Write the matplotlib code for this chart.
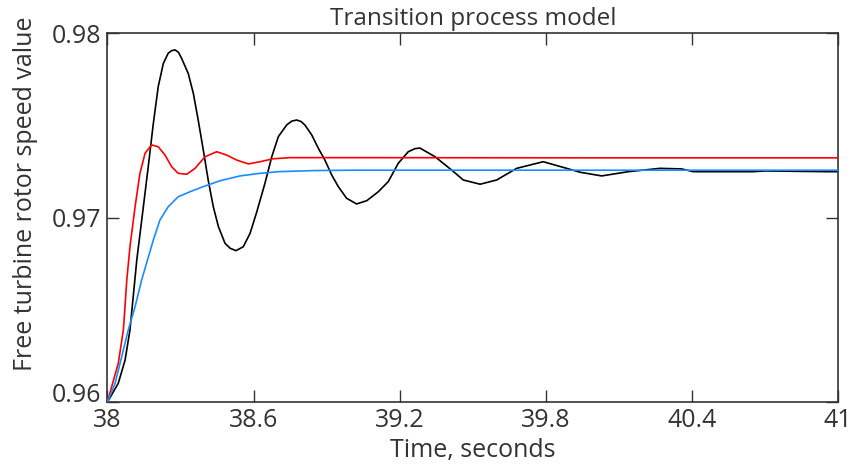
import matplotlib
matplotlib.use("Agg")
import matplotlib.pyplot as plt

# values (time in seconds, speed in relative units)
black_t = [38.0, 38.045, 38.073, 38.093, 38.121, 38.148, 38.168, 38.189, 38.209, 38.230,
           38.250, 38.264, 38.278, 38.292, 38.305, 38.332, 38.353, 38.373, 38.394, 38.414,
           38.435, 38.456, 38.483, 38.504, 38.528, 38.558, 38.586, 38.613, 38.647, 38.675,
           38.702, 38.736, 38.757, 38.777, 38.795, 38.811, 38.839, 38.866, 38.893, 38.921,
           38.948, 38.982, 39.023, 39.065, 39.112, 39.153, 39.194, 39.235, 39.263, 39.283,
           39.345, 39.413, 39.461, 39.530, 39.598, 39.680, 39.789, 39.885, 39.940, 40.029,
           40.138, 40.268, 40.357, 40.405, 40.651, 40.700, 40.952, 41.0]
black_v = [0.9600, 0.96103, 0.96229, 0.96392, 0.96771, 0.97060, 0.97277, 0.97512, 0.97711, 0.97837,
           0.97892, 0.97906, 0.97910, 0.97897, 0.97864, 0.97783, 0.97675, 0.97530, 0.97367, 0.97205,
           0.97060, 0.96952, 0.96862, 0.96835, 0.96822, 0.96843, 0.96916, 0.97030, 0.97187, 0.97331,
           0.97440, 0.97503, 0.97524, 0.97530, 0.97522, 0.97503, 0.97449, 0.97377, 0.97313, 0.97232,
           0.97169, 0.97106, 0.97075, 0.97093, 0.97141, 0.97196, 0.97295, 0.97358, 0.97375, 0.97378,
           0.97331, 0.97259, 0.97205, 0.97182, 0.97205, 0.97268, 0.97304, 0.97268, 0.97247, 0.97227,
           0.97250, 0.97268, 0.97265, 0.97250, 0.97250, 0.97254, 0.97250, 0.97250]

red_t = [38.0, 38.045, 38.066, 38.080, 38.093, 38.114, 38.134, 38.155, 38.182, 38.209,
         38.237, 38.264, 38.291, 38.326, 38.360, 38.401, 38.449, 38.490, 38.531, 38.579,
         38.627, 38.681, 38.750, 39.0, 40.0, 41.0]
red_v = [0.9600, 0.96211, 0.96392, 0.96663, 0.96843, 0.97060, 0.97241, 0.97350, 0.97395, 0.97385,
         0.97340, 0.97277, 0.97241, 0.97236, 0.97268, 0.97331, 0.97358, 0.97340, 0.97313, 0.97292,
         0.97304, 0.97320, 0.97326, 0.97326, 0.97325, 0.97325]

blue_t = [38.0, 38.032, 38.059, 38.086, 38.114, 38.141, 38.168, 38.189, 38.216, 38.250,
          38.291, 38.339, 38.394, 38.463, 38.545, 38.627, 38.700, 38.850, 39.0, 40.0, 41.0]
blue_v = [0.9600, 0.96103, 0.96247, 0.96392, 0.96518, 0.96663, 0.96785, 0.96880, 0.96988, 0.97060,
          0.97114, 0.97141, 0.97169, 0.97201, 0.97227, 0.97241, 0.97250, 0.97256, 0.97258, 0.97258, 0.97258]

x_ticks = [38, 38.6, 39.2, 39.8, 40.4, 41]
x_labels = ["38", "38.6", "39.2", "39.8", "40.4", "41"]
y_ticks = [0.96, 0.97, 0.98]
y_labels = ["0.96", "0.97", "0.98"]

plt.rcParams["font.family"] = ["Open Sans", "DejaVu Sans"]
ink = "#333333"

fig = plt.figure(figsize=(8.56, 4.69), dpi=100)
ax = fig.add_axes([107.3 / 856, 1 - 402.3 / 469, 731 / 856, 369 / 469])

ax.plot(black_t, black_v, color="black", lw=1.2, zorder=2)
ax.plot(red_t, red_v, color="#ff0000", lw=1.2, zorder=3)
ax.plot(blue_t, blue_v, color="#1a8cff", lw=1.2, zorder=4)

ax.set_xlim(38, 41)
ax.set_ylim(0.96, 0.98)
ax.set_xticks(x_ticks)
ax.set_xticklabels(x_labels)
ax.set_yticks(y_ticks)
ax.set_yticklabels(y_labels)
ax.tick_params(direction="in", length=8.5, width=1.0, top=True, right=True,
               labelsize=18, colors=ink, pad=4)
ax.tick_params(axis="x", pad=4)
# bottom y label sits on its tick, clear of the "38"
ax.get_yticklabels()[0].set_verticalalignment("baseline")
for sp in ax.spines.values():
    sp.set_linewidth(1.2)
    sp.set_color(ink)

ax.set_title("Transition process model", fontsize=17.5, color=ink, pad=6)
ax.set_xlabel("Time, seconds", fontsize=18, color=ink, labelpad=4)
ax.set_ylabel("Free turbine rotor speed value", fontsize=18, color=ink)
ax.yaxis.set_label_coords(-0.095, 0.565)

fig.savefig("out.png", dpi=100)
